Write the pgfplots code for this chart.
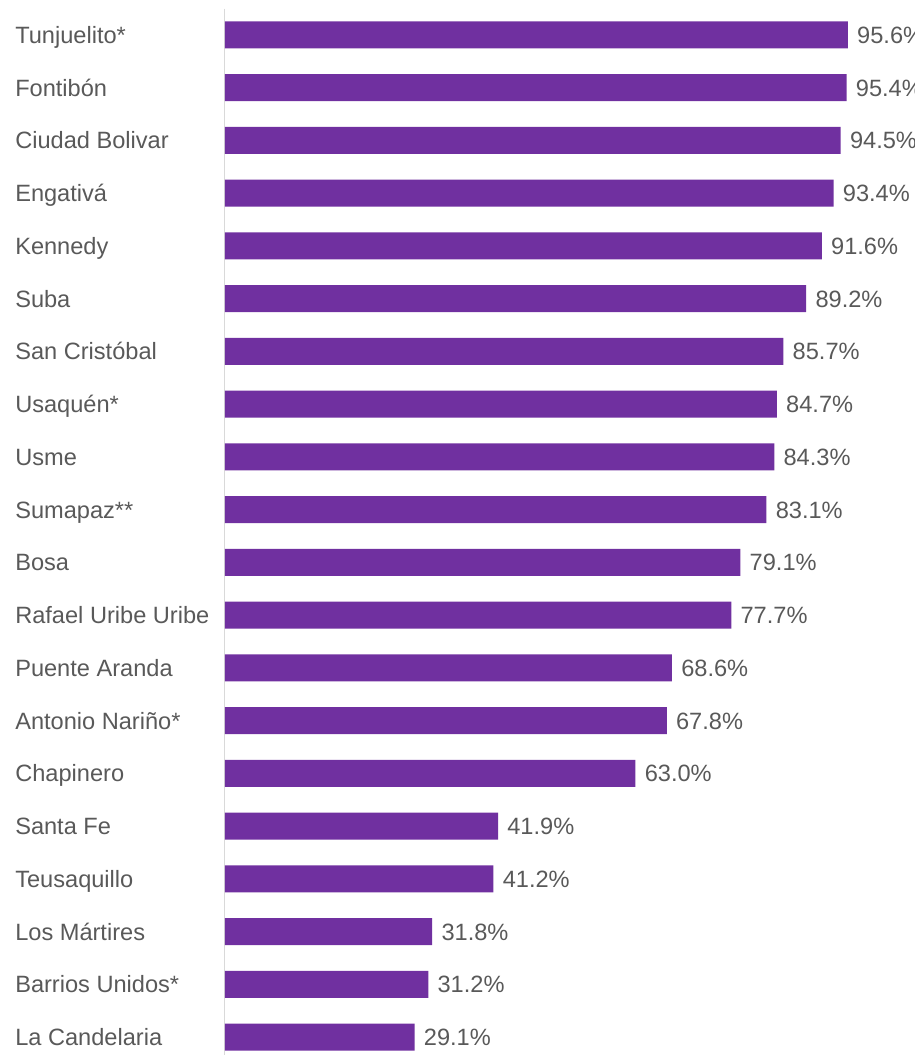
\documentclass[border=0pt]{standalone}
\usepackage{fontspec}
\setmainfont{Liberation Sans}
\usepackage{pgfplots}
\pgfplotsset{compat=1.18}
\definecolor{barpurple}{RGB}{112,48,160}
\definecolor{labelgray}{RGB}{89,89,89}
\definecolor{linegray}{RGB}{217,217,217}

\begin{document}
\begin{tikzpicture}
\begin{axis}[
    scale only axis,
    width=517.5pt, height=784.8pt,
    xbar, bar width=20.25pt,
    y dir=reverse,
    xmin=0, xmax=105.9,
    ymin=-0.5, ymax=19.34,
    enlargelimits=false,
    clip=false,
    axis x line=none,
    axis y line*=left,
    y axis line style={draw=linegray, line width=0.75pt, -},
    major tick length=0pt,
    ytick=data,
    yticklabels={Tunjuelito*, Fontibón, Ciudad Bolivar, Engativá, Kennedy, Suba,
        San Cristóbal, Usaquén*, Usme, Sumapaz**, Bosa, Rafael Uribe Uribe,
        Puente Aranda, Antonio Nariño*, Chapinero, Santa Fe, Teusaquillo,
        Los Mártires, Barrios Unidos*, La Candelaria},
    yticklabel style={anchor=west, inner xsep=0pt, xshift=-157.5pt,
        text height=12.7pt, text depth=0pt, font=\fontsize{17.7pt}{20pt}\selectfont,
        text=labelgray},
    point meta=x,
    nodes near coords={\pgfmathprintnumber{\pgfplotspointmeta}\%},
    nodes near coords style={anchor=west, inner xsep=0pt, xshift=6.8pt,
        text height=12.7pt, text depth=0pt,
        font=\fontsize{17.7pt}{20pt}\selectfont, text=labelgray,
        /pgf/number format/.cd, fixed, fixed zerofill, precision=1, assume math mode=true},
]
\addplot[fill=barpurple, draw=none] coordinates {
    (95.6,0) (95.4,1) (94.5,2) (93.4,3) (91.6,4) (89.2,5) (85.7,6) (84.7,7)
    (84.3,8) (83.1,9) (79.1,10) (77.7,11) (68.6,12) (67.8,13) (63.0,14)
    (41.9,15) (41.2,16) (31.8,17) (31.2,18) (29.1,19)
};
\coordinate (bl) at (axis cs:0,19.34);
\coordinate (tr) at (axis cs:105.9,-0.5);
\end{axis}
\pgfresetboundingbox
\useasboundingbox ([xshift=-168.75pt]bl) rectangle ([yshift=6.45pt]tr);
\end{tikzpicture}
\end{document}
